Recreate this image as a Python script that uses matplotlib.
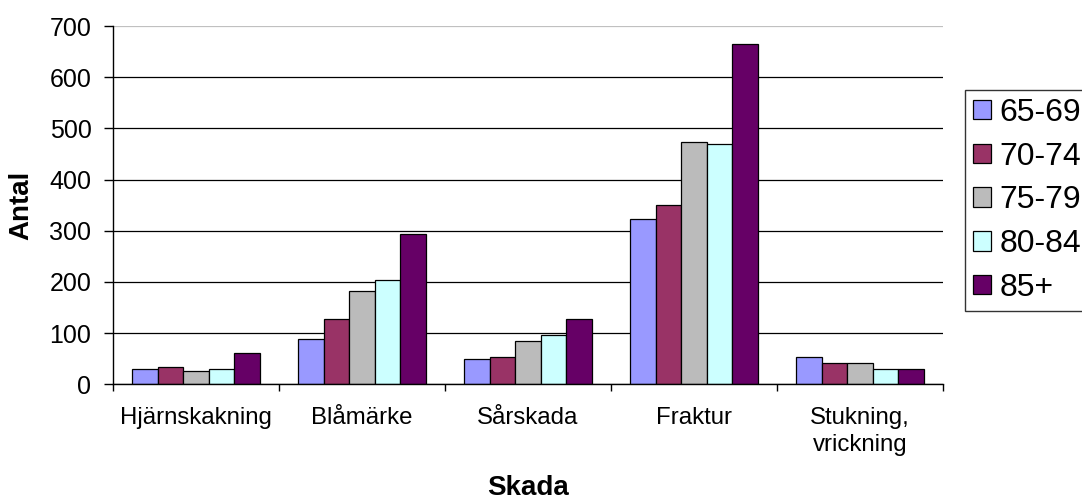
import numpy as np
import matplotlib
matplotlib.use("Agg")
import matplotlib.pyplot as plt

plt.rcParams["font.family"] = ["Liberation Sans", "DejaVu Sans"]

# ------------------------------------
# DATA
# ------------------------------------
categories = ["Hjärnskakning", "Blåmärke", "Sårskada", "Fraktur", "Stukning,\nvrickning"]
age_groups = ["65-69", "70-74", "75-79", "80-84", "85+"]

v_65_69 = [30, 89, 50, 323, 54]
v_70_74 = [34, 128, 54, 351, 42]
v_75_79 = [26, 183, 85, 473, 42]
v_80_84 = [30, 203, 97, 469, 30]
v_85_plus = [62, 293, 128, 665, 30]

series = [v_65_69, v_70_74, v_75_79, v_80_84, v_85_plus]
colors = ["#9999FF", "#993366", "#BBBBBB", "#CCFFFF", "#660066"]

y_ticks = [0, 100, 200, 300, 400, 500, 600, 700]

# ------------------------------------
# FIGURE
# ------------------------------------
fig = plt.figure(figsize=(10.82, 5.01), dpi=100)
ax = fig.add_axes([113 / 1082, 1 - 384.3 / 501, (943 - 113) / 1082, (384.3 - 26) / 501])

x = np.arange(len(categories))
w = 1 / 6.5

for i, vals in enumerate(series):
    ax.bar(
        x + (i - 2) * w,
        vals,
        width=w,
        color=colors[i],
        edgecolor="black",
        linewidth=0.9,
        label=age_groups[i],
        zorder=3
    )

ax.set_xlim(-0.5, len(categories) - 0.5)
ax.set_ylim(0, 700)

# y axis
ax.set_yticks(y_ticks)
ax.tick_params(axis="y", direction="out", length=6.5, width=1, pad=9, labelsize=18)
ax.grid(True, axis="y", color="black", linewidth=0.9, zorder=0)
ax.get_ygridlines()[-1].set_color("#C0C0C0")

# x axis: labels at centres, tick marks at boundaries
ax.set_xticks(x)
ax.set_xticklabels(categories, fontsize=17.3, linespacing=1.35)
ax.tick_params(axis="x", which="major", length=0, pad=16)
ax.set_xticks(np.arange(len(categories) + 1) - 0.5, minor=True)
ax.tick_params(axis="x", which="minor", direction="out", length=5, width=1)

for side in ["top", "right"]:
    ax.spines[side].set_visible(False)
for side in ["left", "bottom"]:
    ax.spines[side].set_linewidth(1)
    ax.spines[side].set_zorder(4)

fig.text(21 / 1082, 1 - 205 / 501, "Antal", rotation=90, ha="center", va="center",
         fontsize=20, fontweight="bold")
fig.text(528 / 1082, 1 - 488 / 501, "Skada", ha="center", va="center",
         fontsize=20, fontweight="bold")

leg = ax.legend(
    loc="upper left",
    bbox_to_anchor=(965 / 1082, 1 - 90 / 501),
    bbox_transform=fig.transFigure,
    fontsize=23,
    frameon=True,
    fancybox=False,
    edgecolor="black",
    borderaxespad=0,
    borderpad=0.25,
    labelspacing=0.43,
    handlelength=0.56,
    handleheight=0.56,
    handletextpad=0.27,
)
leg.get_frame().set_linewidth(1)

fig.savefig("out.png", dpi=100)
